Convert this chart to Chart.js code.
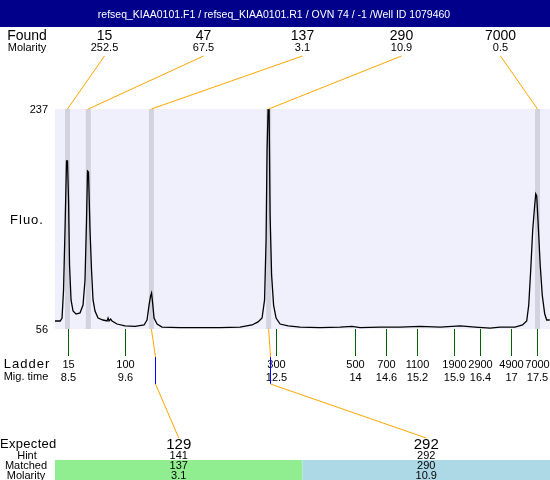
<!DOCTYPE html>
<html>
<head>
<meta charset="utf-8">
<script src="https://cdn.jsdelivr.net/npm/chart.js@4.4.1/dist/chart.umd.min.js"></script>
<style>
html, body { margin: 0; padding: 0; background: #fff; }
#wrap { width: 550px; height: 480px; position: relative; }
</style>
</head>
<body>
<div id="wrap"><canvas id="chart"></canvas></div>
<script>
const title = 'refseq_KIAA0101.F1 / refseq_KIAA0101.R1 / OVN 74 / -1 /Well ID 1079460';

// electropherogram trace: migration time vs fluorescence
const traceTime = [8.25, 8.35, 8.385, 8.414, 8.442, 8.471, 8.49, 8.51, 8.529, 8.558, 8.596, 8.654, 8.73, 8.788, 8.826, 8.855, 8.874, 8.893, 8.922, 8.951, 8.98, 9.018, 9.076, 9.172, 9.249, 9.268, 9.287, 9.316, 9.345, 9.44, 9.594, 9.786, 9.959, 10.016, 10.055, 10.084, 10.103, 10.122, 10.151, 10.209, 10.304, 10.65, 11.034, 11.417, 11.801, 12.032, 12.147, 12.224, 12.272, 12.301, 12.32, 12.34, 12.359, 12.378, 12.407, 12.445, 12.493, 12.57, 12.724, 12.953, 13.337, 13.721, 13.951, 14.105, 14.489, 14.872, 15.256, 15.64, 16.024, 16.312, 16.6, 16.792, 17.079, 17.223, 17.303, 17.342, 17.38, 17.418, 17.457, 17.476, 17.495, 17.524, 17.562, 17.601, 17.649, 17.687, 17.745];
const traceFluo = [62.6, 62.6, 65.0, 88.1, 137.4, 194.2, 194.2, 162.1, 108.7, 79.9, 70.8, 68.3, 69.2, 75.7, 96.3, 145.7, 186.0, 185.2, 137.4, 104.5, 79.9, 70.8, 65.0, 63.4, 62.6, 65.0, 62.6, 64.2, 62.6, 60.1, 58.5, 58.1, 59.3, 63.4, 75.7, 83.1, 85.6, 78.2, 65.0, 60.1, 57.6, 57.2, 57.2, 57.2, 57.6, 59.3, 61.8, 65.0, 79.9, 129.2, 203.3, 237, 237, 150.0, 100.5, 75.7, 65.0, 60.1, 58.5, 57.6, 57.2, 57.6, 58.1, 57.2, 57.6, 57.6, 58.1, 57.6, 58.5, 57.6, 56.8, 57.6, 57.6, 59.3, 62.6, 75.7, 104.5, 137.4, 158.0, 167.1, 165.4, 141.6, 108.7, 84.0, 68.3, 63.4, 63.4];

const yTicks = [56, 237];

// found peaks
const foundSize = ['15', '47', '137', '290', '7000'];
const foundMolarity = ['252.5', '67.5', '3.1', '10.9', '0.5'];
const foundTime = [8.49, 8.89, 10.10, 12.35, 17.51];

// ladder
const ladderSize = ['15', '100', '300', '500', '700', '1100', '1900', '2900', '4900', '7000'];
const ladderTime = [8.5, 9.6, 12.5, 14, 14.6, 15.2, 15.9, 16.4, 17, 17.5];
const ladderTimeLabel = ['8.5', '9.6', '12.5', '14', '14.6', '15.2', '15.9', '16.4', '17', '17.5'];

// expected fragments
const expected = ['129', '292'];
const hint = ['141', '292'];
const matched = ['137', '290'];
const matchedMolarity = ['3.1', '10.9'];
const matchedPeak = [2, 3];
const matchedColor = ['#90ee90', '#add8e6'];

const FONT = '"Liberation Sans", Arial, sans-serif';
const ORANGE = '#ffa500';

function line(ctx, pts, color) {
    ctx.strokeStyle = color;
    ctx.lineWidth = 1;
    ctx.beginPath();
    pts.forEach((p, i) => i ? ctx.lineTo(p[0], p[1]) : ctx.moveTo(p[0], p[1]));
    ctx.stroke();
}

function text(ctx, str, x, y, size, align, spacing) {
    ctx.font = size + 'px ' + FONT;
    ctx.textAlign = align || 'center';
    ctx.letterSpacing = spacing || '0px';
    ctx.fillText(str, x, y);
    ctx.letterSpacing = '0px';
}

const overlay = {
    id: 'overlay',
    beforeDraw(chart) {
        const { ctx, chartArea: a } = chart;
        ctx.save();
        ctx.fillStyle = '#fff';
        ctx.fillRect(0, 0, chart.width, chart.height);
        ctx.fillStyle = '#00008b';
        ctx.fillRect(0, 0, chart.width, 27);
        ctx.fillStyle = '#fff';
        ctx.textBaseline = 'alphabetic';
        text(ctx, title, 274, 18, 10.5);
        ctx.fillStyle = '#f0f0fc';
        ctx.fillRect(a.left, a.top, a.right - a.left, a.bottom - a.top);
        ctx.restore();
    },
    beforeDatasetsDraw(chart) {
        const { ctx, chartArea: a, scales } = chart;
        ctx.save();
        ctx.fillStyle = '#d3d3e0';
        foundTime.forEach(t => {
            const x = scales.x.getPixelForValue(t);
            ctx.fillRect(x - 2.5, a.top, 5, a.bottom - a.top);
        });
        ctx.restore();
    },
    afterDatasetsDraw(chart) {
        const { ctx, chartArea: a, scales } = chart;
        const xs = scales.x, ys = scales.y;
        ctx.save();
        ctx.fillStyle = '#000';

        // y labels
        ctx.textBaseline = 'middle';
        yTicks.forEach(v => text(ctx, String(v), 48, ys.getPixelForValue(v) + 1, 11, 'right'));
        text(ctx, 'Fluo.', 27, 220, 13, 'center', '1px');
        ctx.textBaseline = 'alphabetic';

        // found row
        text(ctx, 'Found', 27, 40, 14);
        text(ctx, 'Molarity', 27, 51, 11);
        foundSize.forEach((s, i) => {
            const lx = 104.5 + i * 99;
            text(ctx, s, lx, 40, 14);
            text(ctx, foundMolarity[i], lx, 51, 11);
            line(ctx, [[lx, 56], [xs.getPixelForValue(foundTime[i]), a.top]], ORANGE);
        });

        // ladder
        ladderTime.forEach((t, i) => {
            const x = Math.round(xs.getPixelForValue(t)) + 0.5;
            line(ctx, [[x, a.bottom], [x, 356]], '#006400');
            ctx.fillStyle = '#000';
            text(ctx, ladderSize[i], x, 368, 11);
            text(ctx, ladderTimeLabel[i], x, 381, 11);
        });
        text(ctx, 'Ladder', 27, 368, 13, 'center', '1px');
        text(ctx, 'Mig. time', 26, 380, 11);

        // expected table
        const boxW = (a.right - a.left) / expected.length;
        expected.forEach((e, i) => {
            const bx = a.left + i * boxW;
            ctx.fillStyle = matchedColor[i];
            ctx.fillRect(bx, 460, boxW, 20);
            const cx = bx + boxW / 2;
            const px = xs.getPixelForValue(foundTime[matchedPeak[i]]);
            const vx = Math.round(px + (i ? 1.5 : 3.5)) + 0.5;
            line(ctx, [[px, a.bottom], [vx, 357]], ORANGE);
            line(ctx, [[vx, 357], [vx, 384]], '#0000ff');
            line(ctx, [[vx, 384], [cx, 438]], ORANGE);
            ctx.fillStyle = '#000';
            text(ctx, e, cx, 449, 15);
            text(ctx, hint[i], cx, 459, 11);
            text(ctx, matched[i], cx, 469, 11);
            text(ctx, matchedMolarity[i], cx, 479, 11);
        });
        text(ctx, 'Expected', 0, 448, 13, 'left', '0.3px');
        text(ctx, 'Hint', 27, 459, 11);
        text(ctx, 'Matched', 26, 469, 11);
        text(ctx, 'Molarity', 26, 479, 11);
        ctx.restore();
    }
};

new Chart(document.getElementById('chart'), {
    type: 'line',
    data: {
        datasets: [{
            data: traceTime.map((t, i) => ({ x: t, y: traceFluo[i] })),
            borderColor: '#000',
            borderWidth: 1.3,
            pointRadius: 0,
            tension: 0,
            fill: false
        }]
    },
    options: {
        responsive: true,
        maintainAspectRatio: false,
        animation: false,
        layout: { padding: { left: 55, right: 0, top: 109, bottom: 151 } },
        plugins: { legend: { display: false }, tooltip: { enabled: false } },
        scales: {
            x: { type: 'linear', min: 8.25, max: 17.75, display: false },
            y: { min: 56, max: 237, display: false }
        }
    },
    plugins: [overlay]
});
</script>
</body>
</html>
